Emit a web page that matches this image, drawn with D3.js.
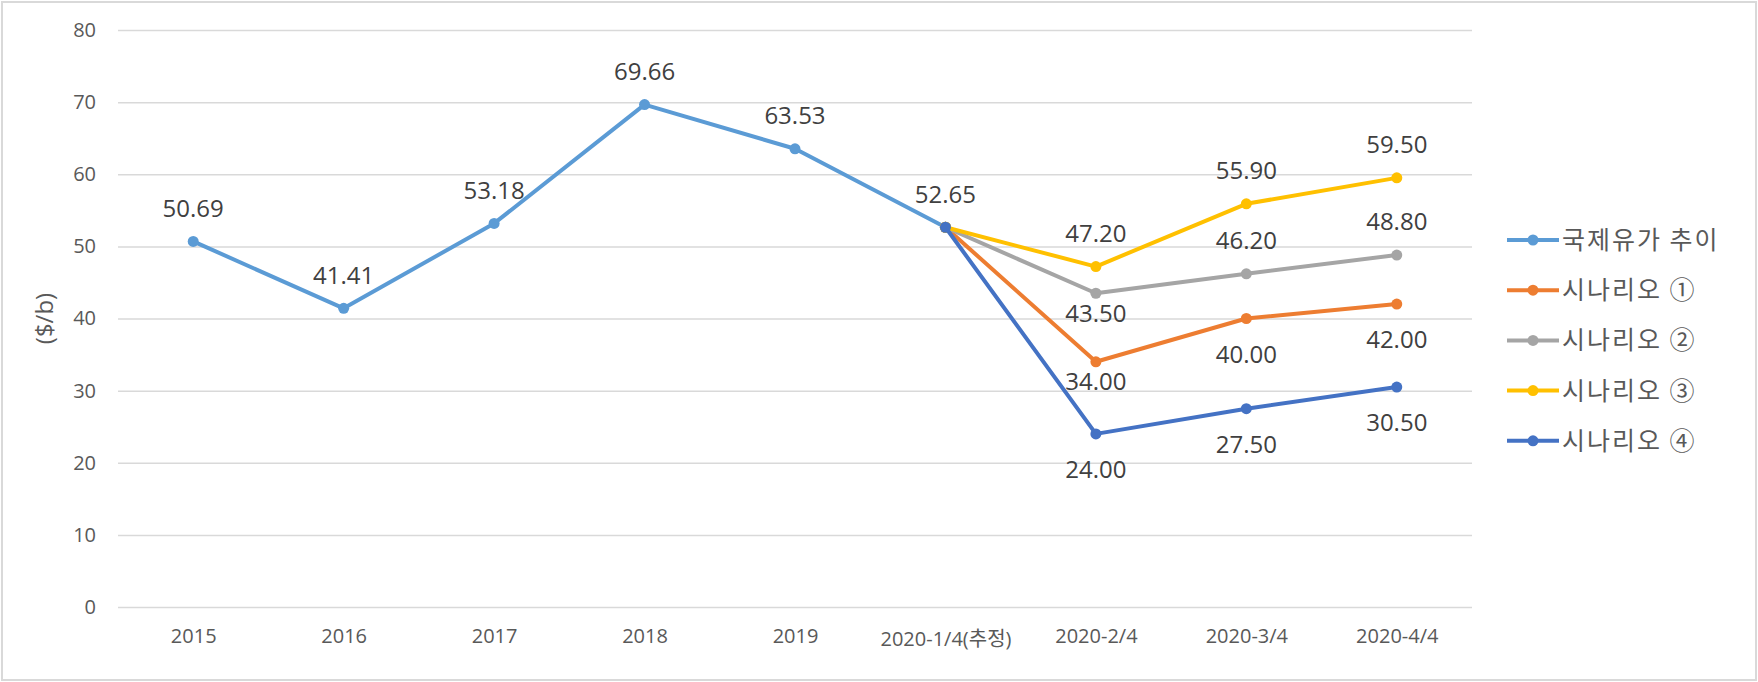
<!DOCTYPE html>
<html>
<head>
<meta charset="utf-8">
<script src="https://cdn.jsdelivr.net/npm/d3@7"></script>
<style>
  body { margin: 0; background: #fff; }
  text { font-family: "Open Sans", "Noto Sans CJK KR", sans-serif; }
  .legendText { font-family: "Noto Sans CJK KR", sans-serif; }
</style>
</head>
<body>
<div id="chart"></div>
<script>
// data
var categories = ["2015", "2016", "2017", "2018", "2019", "2020-1/4(추정)", "2020-2/4", "2020-3/4", "2020-4/4"];
var seriesNames = ["국제유가 추이", "시나리오 ①", "시나리오 ②", "시나리오 ③", "시나리오 ④"];
var trend = [50.69, 41.41, 53.18, 69.66, 63.53, 52.65, null, null, null];
var scenario1 = [null, null, null, null, null, 52.65, 34.00, 40.00, 42.00];
var scenario2 = [null, null, null, null, null, 52.65, 43.50, 46.20, 48.80];
var scenario3 = [null, null, null, null, null, 52.65, 47.20, 55.90, 59.50];
var scenario4 = [null, null, null, null, null, 52.65, 24.00, 27.50, 30.50];
// where each series puts its data labels (per point); "near" = pulled in closer below
var labelSide = [
  ["up", "up", "up", "up", "up", "up", "", "", ""],
  ["", "", "", "", "", "", "near", "down", "down"],
  ["", "", "", "", "", "", "near", "up", "up"],
  ["", "", "", "", "", "", "up", "up", "up"],
  ["", "", "", "", "", "", "down", "down", "down"]
];
var yTicks = [0, 10, 20, 30, 40, 50, 60, 70, 80];
var colors = ["#5B9BD5", "#ED7D31", "#A5A5A5", "#FFC000", "#4472C4"];

var allSeries = [trend, scenario1, scenario2, scenario3, scenario4];

// 1. svg size and plot area
var svgWidth = 1758;
var svgHeight = 682;
var plot = { left: 118, right: 1472, top: 30, bottom: 607 };

var svg = d3.select("#chart").append("svg")
    .attr("width", svgWidth)
    .attr("height", svgHeight);

// outer frame
svg.append("rect")
    .attr("x", 2).attr("y", 2)
    .attr("width", svgWidth - 4).attr("height", svgHeight - 4)
    .attr("fill", "#fff")
    .attr("stroke", "#d9d9d9")
    .attr("stroke-width", 2);

// 2. scales
var xScale = d3.scalePoint()
    .domain(categories)
    .range([plot.left, plot.right])
    .padding(0.5);

var yScale = d3.scaleLinear()
    .domain([0, 80])
    .range([plot.bottom, plot.top]);

// 3. gridlines + y labels
var yAxis = d3.axisLeft(yScale)
    .tickValues(yTicks)
    .tickSize(-(plot.right - plot.left))
    .tickPadding(22);

svg.append("g")
    .attr("transform", `translate(${plot.left}, 0)`)
    .call(yAxis)
    .call(g => g.select(".domain").remove())
    .call(g => g.selectAll("line").attr("stroke", "#d9d9d9").attr("stroke-width", 1.5))
    .call(g => g.selectAll("text")
        .attr("fill", "#595959")
        .attr("font-size", "20px")
        .attr("font-family", "'Open Sans', sans-serif"));

// 4. x labels
var xAxis = d3.axisBottom(xScale).tickSize(0).tickPadding(22);

svg.append("g")
    .attr("transform", `translate(0, ${plot.bottom})`)
    .call(xAxis)
    .call(g => g.select(".domain").remove())
    .call(g => g.selectAll("text")
        .attr("fill", "#595959")
        .attr("font-size", "20px")
        .attr("font-family", "'Open Sans', 'Noto Sans CJK KR', sans-serif")
        .attr("dy", d => /[^\x00-\x7F]/.test(d) ? "0.85em" : "0.71em"));

// y title
svg.append("text")
    .attr("transform", `translate(45, ${(plot.top + plot.bottom) / 2}) rotate(-90)`)
    .attr("text-anchor", "middle")
    .attr("dy", "0.35em")
    .attr("fill", "#595959")
    .attr("font-size", "24px")
    .text("($/b)");

// 5. lines and markers
var line = d3.line()
    .defined(d => d != null)
    .x((d, i) => xScale(categories[i]))
    .y(d => yScale(d));

allSeries.forEach(function(values, s) {
  svg.append("path")
      .datum(values)
      .attr("fill", "none")
      .attr("stroke", colors[s])
      .attr("stroke-width", 4)
      .attr("stroke-linejoin", "round")
      .attr("stroke-linecap", "round")
      .attr("d", line);

  svg.append("g").selectAll("circle")
      .data(values.map((v, i) => ({ v: v, c: categories[i] })).filter(d => d.v != null))
      .enter()
      .append("circle")
      .attr("cx", d => xScale(d.c))
      .attr("cy", d => yScale(d.v))
      .attr("r", 5.5)
      .attr("fill", colors[s]);
});

// 6. data labels
var labelOffset = { up: -33, down: 36, near: 20 };

allSeries.forEach(function(values, s) {
  var pts = values.map((v, i) => ({ v: v, c: categories[i], side: labelSide[s][i] }))
      .filter(d => d.v != null && d.side !== "");
  svg.append("g").selectAll("text")
      .data(pts)
      .enter()
      .append("text")
      .attr("x", d => xScale(d.c))
      .attr("y", d => yScale(d.v) + labelOffset[d.side])
      .attr("dy", "0.35em")
      .attr("text-anchor", "middle")
      .attr("fill", "#404040")
      .attr("font-size", "24px")
      .text(d => d.v.toFixed(2));
});

// 7. legend
var legend = svg.append("g").selectAll("g")
    .data(seriesNames)
    .enter()
    .append("g")
    .attr("transform", (d, i) => `translate(1507, ${240 + i * 50.2})`);

legend.append("line")
    .attr("x1", 0).attr("x2", 52)
    .attr("stroke", (d, i) => colors[i])
    .attr("stroke-width", 4);

legend.append("circle")
    .attr("cx", 26)
    .attr("r", 5.5)
    .attr("fill", (d, i) => colors[i]);

legend.append("text")
    .classed("legendText", true)
    .attr("x", 55)
    .attr("dy", "0.36em")
    .attr("fill", "#595959")
    .attr("font-size", "25px")
    .attr("letter-spacing", "2px")
    .text(d => d);
</script>
</body>
</html>
